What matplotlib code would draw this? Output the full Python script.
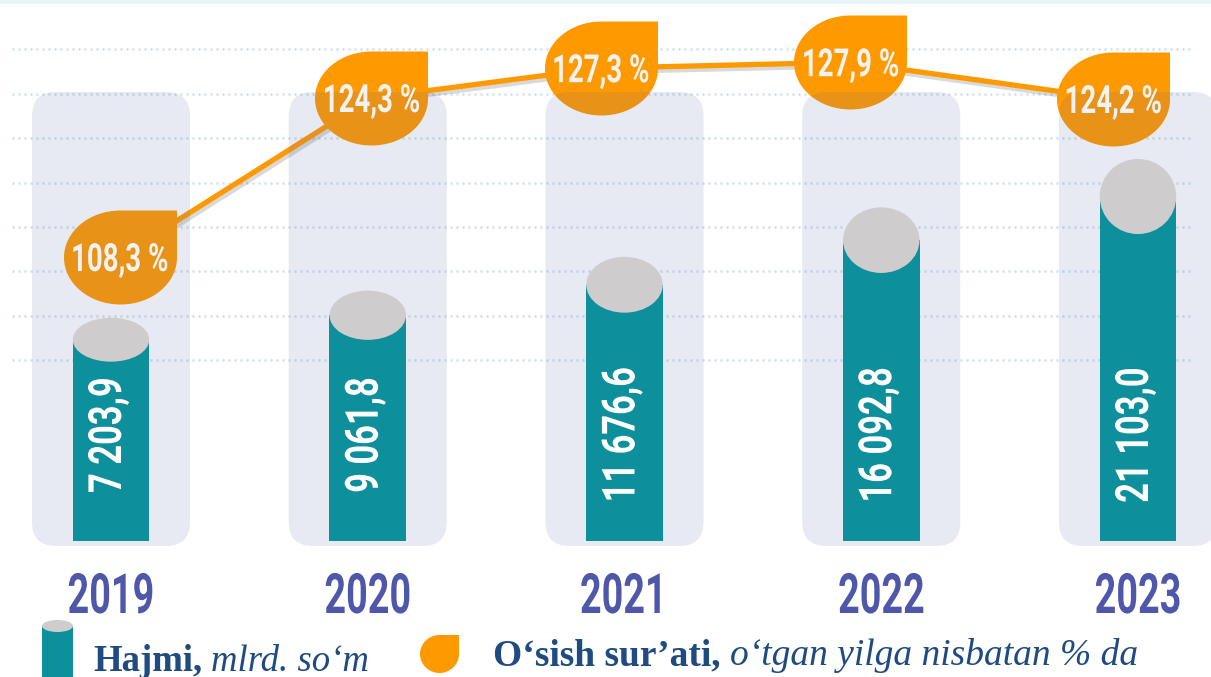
import numpy as np
import matplotlib
matplotlib.use("Agg")
import matplotlib.pyplot as plt
import matplotlib.patheffects as pe
from matplotlib.path import Path
from matplotlib.patches import FancyBboxPatch, Ellipse, Rectangle, PathPatch
from matplotlib.lines import Line2D
from matplotlib.transforms import IdentityTransform, Affine2D

# -------------------------
# Data
# -------------------------
years = ["2019", "2020", "2021", "2022", "2023"]
volume = [7203.9, 9061.8, 11676.6, 16092.8, 21103.0]          # mlrd. so'm
volume_labels = ["7 203,9", "9 061,8", "11 676,6", "16 092,8", "21 103,0"]
growth = [108.3, 124.3, 127.3, 127.9, 124.2]                  # % to previous year
growth_labels = ["108,3 %", "124,3 %", "127,3 %", "127,9 %", "124,2 %"]

# -------------------------
# Style / layout
# -------------------------
W, H, DPI = 1211, 677, 100
PLOT_BOTTOM = 541          # pixel row of bar bases
X_FIRST, X_STEP = 111, 256.75
BUBBLE_DX = [8.5, 3.5, -24, -31, -25]   # label bubbles sit a bit off the bar centres (px)

TEAL = "#0D8F9C"
CAP_GRAY = "#CFCCCE"
ORANGE = "#FF9900"
YEAR_COLOR = "#4F57AA"
LEGEND_COLOR = "#1F4B80"
BOX_TINT = (88 / 255, 102 / 255, 168 / 255, 0.137)
GRID_COLOR = "#C9E1EC"

DISPLAY = ["Roboto", "DejaVu Sans"]
SERIF = ["Liberation Serif", "DejaVu Serif"]

PX = IdentityTransform()


class Squeeze(pe.AbstractPathEffect):
    """Narrow the glyphs along the text direction (no condensed font installed)."""

    def __init__(self, sx):
        super().__init__()
        self.sx = sx

    def draw_path(self, renderer, gc, tpath, affine, rgbFace=None):
        ext = tpath.get_extents()
        c = (ext.x0 + ext.x1) / 2
        squeeze = Affine2D().translate(-c, 0).scale(self.sx, 1).translate(c, 0)
        renderer.draw_path(gc, tpath, squeeze + affine, rgbFace)


def leaf_path(a, b):
    """Rounded drop with a square top-right corner, centred on 0."""
    k = 0.5523
    verts = [
        (a, b), (0, b),
        (-k * a, b), (-a, k * b), (-a, 0),
        (-a, -k * b), (-k * a, -b), (0, -b),
        (k * a, -b), (a, -k * b), (a, 0),
        (a, b), (a, b),
    ]
    codes = [Path.MOVETO, Path.LINETO,
             Path.CURVE4, Path.CURVE4, Path.CURVE4,
             Path.CURVE4, Path.CURVE4, Path.CURVE4,
             Path.CURVE4, Path.CURVE4, Path.CURVE4,
             Path.LINETO, Path.CLOSEPOLY]
    return Path(verts, codes)


# -------------------------
# Figure and axes
# -------------------------
fig = plt.figure(figsize=(W / DPI, H / DPI), dpi=DPI, facecolor="white")
rect = [0, (H - PLOT_BOTTOM) / H, 1, PLOT_BOTTOM / H]
ax_line = fig.add_axes(rect, zorder=1)
ax_bar = fig.add_axes(rect, zorder=2)
ax_bar.patch.set_alpha(0)

xlim = (-X_FIRST / X_STEP, (W - X_FIRST) / X_STEP)
for ax in (ax_line, ax_bar):
    ax.set_xlim(*xlim)
    ax.axis("off")

ax_bar.set_yscale("function", functions=(np.sqrt, np.square))
ax_bar.set_ylim(0, 52040)
ax_line.set_ylim(79.73, 134.16)

x = np.arange(len(years))

# thin band on top
fig.add_artist(Rectangle((0, H - 4), W, 4, transform=PX, color="#E8F3FA", lw=0))

# dotted guide lines
for k in range(8):
    yy = H - (49.3 + 44.4 * k)
    ax_line.add_line(Line2D([12, 1192], [yy, yy], transform=PX, color=GRID_COLOR,
                            lw=1.8, ls=(0, (0.8, 1.6)), zorder=0, clip_on=False))

# -------------------------
# Growth line + leaf bubbles
# -------------------------
xb = x + np.array(BUBBLE_DX) / X_STEP
ax_line.plot(xb, growth, color=ORANGE, lw=3.8, zorder=2, solid_capstyle="round",
             path_effects=[pe.SimpleLineShadow(offset=(1.5, -2.5), shadow_color="#444444", alpha=0.2),
                           pe.Normal()])
ax_line.plot(xb, growth, ls="none", marker=leaf_path(56.5, 47), ms=113 * 0.72,
             mfc=ORANGE, mec="none", zorder=3)

# -------------------------
# Background boxes, bars, caps
# -------------------------
for i in x:
    xc = ax_bar.transData.transform((i, 0))[0]
    ax_bar.add_patch(FancyBboxPatch((xc - 79, H - 546), 158, 454,
                                    boxstyle="round,pad=0,rounding_size=24",
                                    transform=PX, fc=BOX_TINT, ec="none", zorder=1,
                                    clip_on=False))

BAR_W = 0.298
ax_bar.bar(x, volume, width=BAR_W, color=TEAL, zorder=2)

for i, v in zip(x, volume):
    x_left, y0 = ax_bar.transData.transform((i - BAR_W / 2, 0))
    x_right, yt = ax_bar.transData.transform((i + BAR_W / 2, v))
    h = 0.218 * (yt - y0)
    ax_bar.add_patch(Ellipse(((x_left + x_right) / 2, yt), x_right - x_left, h,
                             transform=PX, fc=CAP_GRAY, ec="none", zorder=3, clip_on=False))

for i, lbl in zip(x, volume_labels):
    ax_bar.annotate(lbl, xy=(i, 0), xycoords=("data", "axes fraction"),
                    xytext=(10 * 0.72, 106 * 0.72), textcoords="offset points",
                    rotation=90, rotation_mode="anchor", ha="center", va="baseline",
                    color="white", fontsize=33, fontweight="bold", family=DISPLAY, zorder=4,
                    path_effects=[Squeeze(0.75)])

for xi, g, lbl in zip(xb, growth, growth_labels):
    ax_bar.annotate(lbl, xy=(xi, g), xycoords=ax_line.transData,
                    xytext=(0, -14 * 0.72), textcoords="offset points",
                    ha="center", va="baseline", color="#F2F2F2",
                    fontsize=28, fontweight="bold", family=DISPLAY, zorder=5,
                    path_effects=[Squeeze(0.71)])

for i, yr in zip(x, years):
    ax_bar.annotate(yr, xy=(i, 0), xycoords=("data", "axes fraction"),
                    xytext=(0, -72 * 0.72), textcoords="offset points",
                    ha="center", va="baseline", color=YEAR_COLOR,
                    fontsize=40, fontweight="bold", family=DISPLAY, annotation_clip=False,
                    path_effects=[Squeeze(0.68)])

# -------------------------
# Legend
# -------------------------
fig.add_artist(Rectangle((42, 0), 31, H - 626, transform=PX, fc=TEAL, ec="none"))
fig.add_artist(Ellipse((57.5, H - 626), 31, 12, transform=PX, fc=CAP_GRAY, ec="none"))
leaf_icon = leaf_path(19.5, 19).transformed(Affine2D().translate(439.5, H - 654))
fig.add_artist(PathPatch(leaf_icon, transform=PX, fc=ORANGE, ec="none"))

renderer = fig.canvas.get_renderer()


def legend_text(x0, baseline, bold, italic, size):
    t = fig.text(x0, H - baseline, bold, transform=PX, fontsize=size, fontweight="bold",
                 family=SERIF, color=LEGEND_COLOR, va="baseline", ha="left")
    bb = t.get_window_extent(renderer)
    fig.text(bb.x1 + 9, H - baseline, italic, transform=PX, fontsize=size, style="italic",
             family=SERIF, color=LEGEND_COLOR, va="baseline", ha="left")


legend_text(93, 671, "Hajmi,", "mlrd. so‘m", 26.5)
legend_text(493, 665, "O‘sish sur’ati,", "o‘tgan yilga nisbatan % da", 27)

fig.savefig("out.png", dpi=DPI, facecolor="white")
